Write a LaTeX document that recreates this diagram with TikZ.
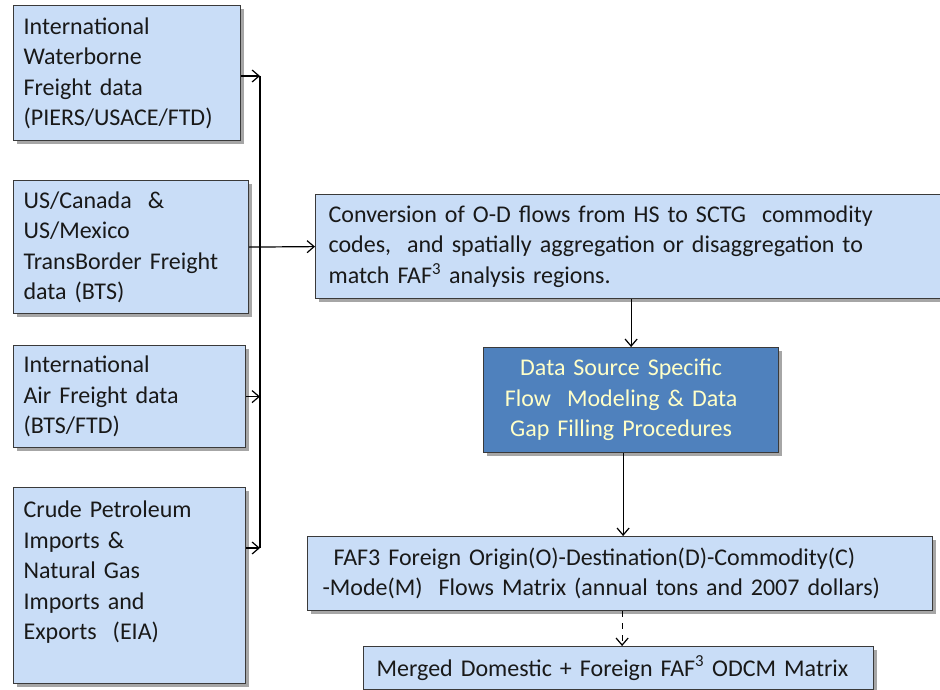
\documentclass[tikz,border=0pt]{standalone}
\usepackage{fontspec}
\setmainfont{Carlito}
\usepackage{tikz}
\usetikzlibrary{positioning,arrows.meta,shadows}
\definecolor{boxfill}{HTML}{C9DDF7}
\definecolor{boxdark}{HTML}{4F81BD}
\definecolor{boxline}{HTML}{3A3A3A}
\definecolor{paletext}{HTML}{FFFFC8}

\begin{document}
\begin{tikzpicture}[x=1pt, y=-1pt,
    flowbox/.style={draw=boxline, line width=1.2pt, fill=boxfill, anchor=north west, align=left,
      inner xsep=10pt, inner ysep=0pt, text=black!90, font=\fontsize{24}{30.5}\selectfont,
      drop shadow={shadow xshift=3pt, shadow yshift=-3pt, fill=black, opacity=.35}},
    arr/.style={line width=1.2pt, -{Straight Barb[length=7pt,width=12pt]}}]
  \useasboundingbox (0,0) rectangle (940,690);

  \node[flowbox, text width=207pt, minimum height=135pt] (water) at (13,5)
    {International\\Waterborne\\Freight data\\(PIERS/USACE/FTD)};
  \node[flowbox, text width=215pt, minimum height=133pt] (border) at (13,180)
    {US/Canada~ \&\\US/Mexico\\TransBorder Freight\\data (BTS)};
  \node[flowbox, text width=212pt, minimum height=102pt] (air) at (13,345)
    {International\\Air Freight data\\(BTS/FTD)};
  \node[flowbox, text width=212pt, minimum height=196pt, text depth=152pt] (crude) at (13,487)
    {Crude Petroleum\\Imports \&\\Natural Gas\\Imports and\\Exports~ (EIA)};

  \node[flowbox, inner xsep=13pt, text width=601pt, minimum height=104pt] (conv) at (315,194)
    {Conversion of O-D flows from HS to SCTG~ commodity\\
     codes,~ and spatially aggregation or disaggregation to\\
     match FAF\textsuperscript{3} analysis regions.};
  \node[flowbox, fill=boxdark, text=paletext, align=center, text width=275pt, minimum height=105pt] (dsrc) at (483,347)
    {\hspace*{-20pt}Data Source Specific\\\hspace*{-20pt}Flow~ Modeling \& Data\\\hspace*{-20pt}Gap Filling Procedures};
  \node[flowbox, inner xsep=15pt, text width=595pt, minimum height=74pt] (fafm) at (307,536)
    {\hspace*{11pt}FAF3 Foreign Origin(O)-Destination(D)-Commodity(C)\\
     -Mode(M)~ Flows Matrix (annual tons and 2007 dollars)};
  \node[flowbox, inner xsep=13pt, text width=484pt, minimum height=43pt] (merged) at (363,646)
    {Merged Domestic + Foreign FAF\textsuperscript{3} ODCM Matrix};

  \coordinate (bustop) at (260,76);
  \coordinate (busbot) at (260,548);
  \draw[line width=1.2pt] (bustop) -- (busbot);
  \draw[arr] (water.east |- bustop) -- (bustop);
  \draw[arr] (air.east) -- (air.east -| bustop);
  \draw[arr] (crude.east |- busbot) -- (busbot);
  \draw[arr] (border.east) -- (conv.west);

  \draw[arr] (conv.south -| dsrc.north) -- (dsrc.north);
  \draw[arr] ([xshift=-8pt]dsrc.south) -- ([xshift=-8pt]dsrc.south |- fafm.north);
  \draw[arr, dash pattern=on 6pt off 6pt] ([xshift=2pt]fafm.south) -- ([xshift=2pt]fafm.south |- merged.north);
\end{tikzpicture}
\end{document}
